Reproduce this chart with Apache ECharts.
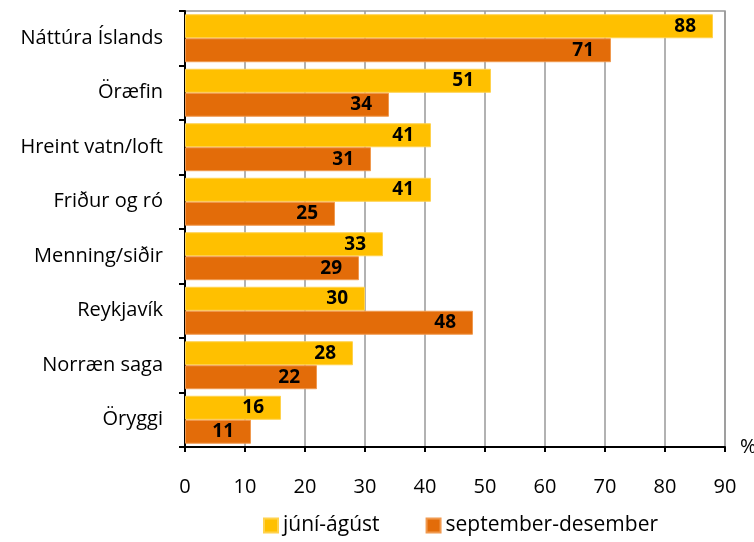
<!DOCTYPE html>
<html><head><meta charset="utf-8">
<script src="https://cdn.jsdelivr.net/npm/echarts@6/dist/echarts.min.js"></script>
<style>html,body{margin:0;padding:0;background:#fff}#c{width:754px;height:542px}</style>
</head><body><div id="c"></div>
<script>
const categories = ['Náttúra Íslands','Öræfin','Hreint vatn/loft','Friður og ró','Menning/siðir','Reykjavík','Norræn saga','Öryggi'];
const summer = [88,51,41,41,33,30,28,16];
const autumn = [71,34,31,25,29,48,22,11];
const seriesNames = ['júní-ágúst','september-desember'];
const xTicks = {min:0, max:90, interval:10};

const font = '"Open Sans", sans-serif';
const chart = echarts.init(document.getElementById('c'));
const lbl = {show:true, position:'insideRight', distance:17, color:'#000', fontWeight:'bold', fontSize:19, fontFamily:font};
chart.setOption({
  animation:false,
  grid:{left:185, right:29, top:11, bottom:95, outerBoundsMode:'none', containLabel:false, show:true, borderColor:'#999', borderWidth:1.5},
  legend:{bottom:1, left:258, itemWidth:14, itemHeight:14, itemGap:46, icon:'rect',
    textStyle:{fontSize:21, fontFamily:font, color:'#000'}, data:seriesNames},
  xAxis:{type:'value', min:xTicks.min, max:xTicks.max, interval:xTicks.interval,
    name:'%', nameLocation:'end', nameGap:15, nameTextStyle:{fontSize:20, fontFamily:font, color:'#000', padding:[12,0,0,0]},
    axisLine:{show:true, lineStyle:{color:'#000', width:2}},
    axisTick:{show:true, length:5, lineStyle:{color:'#000', width:2}},
    axisLabel:{fontSize:20, fontFamily:font, color:'#000', margin:30},
    splitLine:{lineStyle:{color:'#999', width:1.5}}},
  yAxis:{type:'category', inverse:true, data:categories,
    axisLine:{show:true, lineStyle:{color:'#000', width:2}},
    axisTick:{show:true, length:6, lineStyle:{color:'#000', width:2}},
    axisLabel:{fontSize:20, fontFamily:font, color:'#000', margin:22}},
  series:[
    {name:seriesNames[0], type:'bar', data:summer, barGap:'0%', barCategoryGap:'12%',
      itemStyle:{color:'#FFC000', borderColor:'#FFD24D', borderWidth:1}, label:lbl},
    {name:seriesNames[1], type:'bar', data:autumn, barGap:'0%', barCategoryGap:'12%',
      itemStyle:{color:'#E36C09', borderColor:'#F0994F', borderWidth:1}, label:lbl}
  ]
});
</script></body></html>
